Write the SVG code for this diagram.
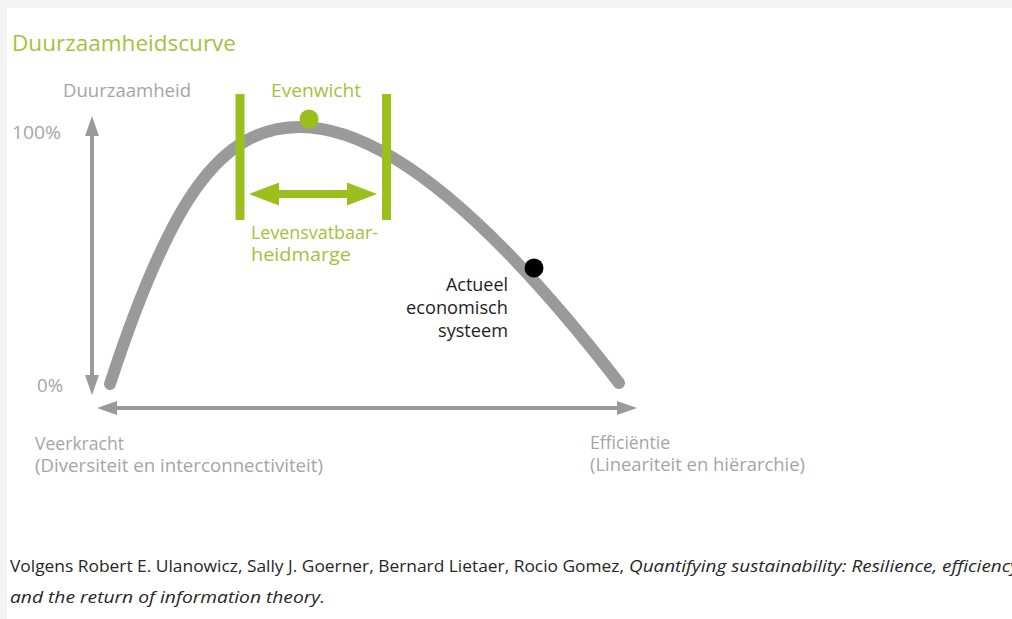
<svg xmlns="http://www.w3.org/2000/svg" width="1012" height="619" viewBox="0 0 1012 619">
<style>
  text { font-family: "Open Sans", "Noto Sans", "DejaVu Sans", sans-serif; }
  .gray { fill: #a5a5a5; font-size: 17.5px; }
  .green { fill: #a3c23c; font-size: 17.5px; }
  .dark { fill: #1e1e1e; font-size: 17.5px; }
  .foot { fill: #262626; font-size: 17px; }
  .axis { stroke: #9a9a9a; stroke-width: 4; fill: none; }
  .curve { stroke: #9a9a9a; stroke-width: 12; fill: none; stroke-linecap: round; }
  .bar { fill: #9cbf1e; }
</style>
<defs>
  <marker id="grayHead" markerUnits="userSpaceOnUse" viewBox="0 0 20 14" markerWidth="20" markerHeight="14" refX="10" refY="7" orient="auto-start-reverse">
    <path d="M0,0 L20,7 L0,14 Z" fill="#9a9a9a"/>
  </marker>
  <marker id="greenHead" markerUnits="userSpaceOnUse" viewBox="0 0 30 23" markerWidth="30" markerHeight="23" refX="15" refY="11.5" orient="auto-start-reverse">
    <path d="M0,0 L30,11.5 L0,23 Z" fill="#9cbf1e"/>
  </marker>
</defs>

<rect x="0" y="0" width="1012" height="619" fill="#ffffff"/>
<rect x="0" y="0" width="1012" height="8" fill="#f3f3f3"/>
<rect x="0" y="0" width="7" height="619" fill="#f3f3f3"/>

<g id="title">
  <text x="12" y="51" class="green" style="font-size:21px" textLength="224" lengthAdjust="spacingAndGlyphs">Duurzaamheidscurve</text>
</g>

<g id="connectors">
  <line class="axis" x1="92" y1="126" x2="92" y2="385" marker-start="url(#grayHead)" marker-end="url(#grayHead)"/>
  <line class="axis" x1="107" y1="408" x2="627" y2="408" marker-start="url(#grayHead)" marker-end="url(#grayHead)"/>
  <path class="curve" d="M110,384 C170,200 220,127 300,127 C370,127 470,190 619,383"/>
  <line x1="264" y1="194" x2="362" y2="194" stroke="#9cbf1e" stroke-width="8" marker-start="url(#greenHead)" marker-end="url(#greenHead)"/>
</g>

<g id="y-axis-labels">
  <text x="63" y="97" class="gray" textLength="128" lengthAdjust="spacingAndGlyphs">Duurzaamheid</text>
  <text x="12" y="139" class="gray" textLength="49" lengthAdjust="spacingAndGlyphs">100%</text>
  <text x="37" y="392" class="gray" textLength="26" lengthAdjust="spacingAndGlyphs">0%</text>
</g>

<g id="margin-bars">
  <rect class="bar" x="235.5" y="94" width="9" height="126"/>
  <rect class="bar" x="382" y="94" width="9" height="126"/>
</g>

<g id="evenwicht">
  <circle cx="309" cy="119" r="9.5" fill="#9cbf1e"/>
  <text x="271" y="97" class="green" textLength="90" lengthAdjust="spacingAndGlyphs">Evenwicht</text>
</g>

<g id="levensvatbaarheidmarge">
  <text x="251" y="239" class="green" textLength="127" lengthAdjust="spacingAndGlyphs">Levensvatbaar-</text>
  <text x="251" y="261" class="green" textLength="100" lengthAdjust="spacingAndGlyphs">heidmarge</text>
</g>

<g id="actueel">
  <circle cx="534" cy="268" r="9.5" fill="#000000"/>
  <text x="508" y="291" class="dark" text-anchor="end" textLength="62" lengthAdjust="spacingAndGlyphs">Actueel</text>
  <text x="508" y="314" class="dark" text-anchor="end" textLength="102" lengthAdjust="spacingAndGlyphs">economisch</text>
  <text x="508" y="337" class="dark" text-anchor="end" textLength="70" lengthAdjust="spacingAndGlyphs">systeem</text>
</g>

<g id="veerkracht">
  <text x="35" y="450" class="gray" textLength="89" lengthAdjust="spacingAndGlyphs">Veerkracht</text>
  <text x="35" y="472" class="gray" textLength="288" lengthAdjust="spacingAndGlyphs">(Diversiteit en interconnectiviteit)</text>
</g>

<g id="efficientie">
  <text x="590" y="449" class="gray" textLength="80" lengthAdjust="spacingAndGlyphs">Efficiëntie</text>
  <text x="590" y="471" class="gray" textLength="215" lengthAdjust="spacingAndGlyphs">(Lineariteit en hiërarchie)</text>
</g>

<g id="source">
  <text x="10" y="572" class="foot" textLength="614" lengthAdjust="spacingAndGlyphs">Volgens Robert E. Ulanowicz, Sally J. Goerner, Bernard Lietaer, Rocio Gomez,</text>
  <text x="629" y="572" class="foot" font-style="italic" textLength="390" lengthAdjust="spacingAndGlyphs">Quantifying sustainability: Resilience, efficiency</text>
  <text x="10" y="603" class="foot" font-style="italic" textLength="315" lengthAdjust="spacingAndGlyphs">and the return of information theory.</text>
</g>
</svg>
